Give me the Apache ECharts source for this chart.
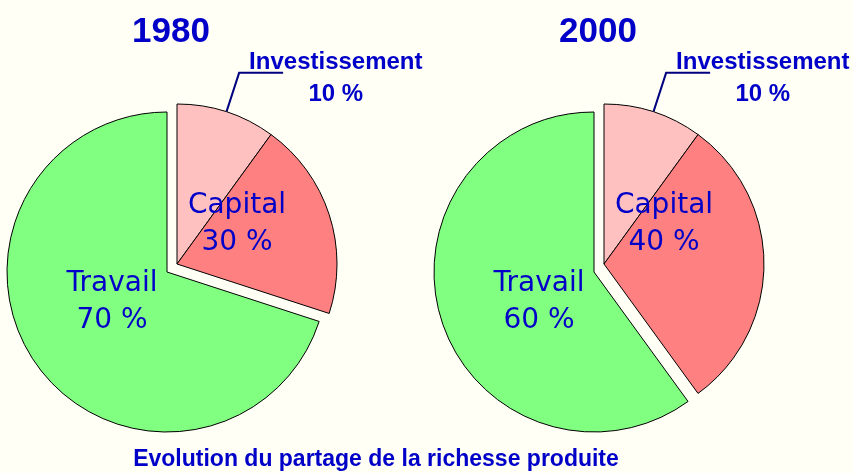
<!DOCTYPE html>
<html>
<head>
<meta charset="utf-8">
<script src="https://cdn.jsdelivr.net/npm/echarts@6/dist/echarts.min.js"></script>
<style>
	html, body {margin:0; padding:0; background:#fffff5;}
	#chart {width:853px; height:473px;}
</style>
</head>
<body>
<div id="chart"></div>
<script>
var annees = ['1980', '2000'];
var travail = [70, 60];
var capital = [30, 40];          // capital, investissement compris
var investissement = [10, 10];
var titre = 'Evolution du partage de la richesse produite';

var bleu = '#0000c8';
var centres = [[167, 272], [594, 272]];
var decalage = [10, -8];         // part du capital sortie du camembert
var rayon = 160;
var vide = {color:'rgba(0,0,0,0)', borderWidth:0};

//la part du travail
function serieTravail(i){
	var c = centres[i];
	return {
		type: 'pie',
		silent: true,
		center: c,
		radius: rayon,
		startAngle: 90,
		avoidLabelOverlap: false,
		itemStyle: {borderColor:'#000', borderWidth:1},
		data: [
			{value: capital[i], name: 'reste', itemStyle: vide, label: {show:false}, labelLine: {show:false}},
			{value: travail[i], name: 'Travail', itemStyle: {color:'#80ff80'},
				label: {
					show: true,
					position: 'inside',
					formatter: 'Travail\n' + travail[i] + ' %',
					fontFamily: 'DejaVu Sans',
					fontSize: 28,
					lineHeight: 37,
					color: bleu,
					textBorderWidth: 0
				},
				labelLine: {show:false}
			}
		],
		labelLayout: function(p){
			if(p.dataIndex != 1) return {};
			return {x: c[0] - 55, y: c[1] + 30, align: 'center', verticalAlign: 'middle'};
		}
	};
}

//capital + investissement, decale
function serieCapital(i){
	var c = [centres[i][0] + decalage[0], centres[i][1] + decalage[1]];
	return {
		type: 'pie',
		silent: true,
		center: c,
		radius: rayon,
		startAngle: 90,
		avoidLabelOverlap: false,
		itemStyle: {borderColor:'#000', borderWidth:1},
		data: [
			{value: investissement[i], name: 'Investissement', itemStyle: {color:'#ffc0c0'},
				label: {
					show: true,
					position: 'outside',
					formatter: '{a|Investissement}\n{a|' + investissement[i] + ' %}',
					distanceToLabelLine: -34,
					padding: [12, 0, 0, 0],
					rich: {
						a: {
							align: 'center',
							fontFamily: 'Liberation Sans',
							fontWeight: 'bold',
							fontSize: 24,
							lineHeight: 32,
							color: bleu
						}
					}
				},
				labelLine: {show:true, length:41, length2:44, lineStyle:{color:'#000080', width:2}}
			},
			{value: capital[i] - investissement[i], name: 'Capital', itemStyle: {color:'#ff8080'},
				label: {
					show: true,
					position: 'inside',
					formatter: 'Capital\n' + capital[i] + ' %',
					fontFamily: 'DejaVu Sans',
					fontSize: 28,
					lineHeight: 37,
					color: bleu,
					textBorderWidth: 0
				},
				labelLine: {show:false}
			},
			{value: travail[i], name: 'reste', itemStyle: vide, label: {show:false}, labelLine: {show:false}}
		],
		labelLayout: function(p){
			if(p.dataIndex != 1) return {};
			return {x: c[0] + 60, y: c[1] - 40, align: 'center', verticalAlign: 'middle'};
		}
	};
}

var chart = echarts.init(document.getElementById('chart'));
var titres = [];
var series = [];
for(var i = 0; i < annees.length; i++){
	titres.push({
		text: annees[i],
		left: centres[i][0] + 4,
		top: 15,
		padding: 0,
		textAlign: 'center',
		textStyle: {fontFamily:'Liberation Sans', fontWeight:'bold', fontSize:35, color:bleu}
	});
	series.push(serieTravail(i));
	series.push(serieCapital(i));
}
titres.push({
	text: titre,
	left: 376,
	top: 448,
	padding: 0,
	textAlign: 'center',
	textStyle: {fontFamily:'Liberation Sans', fontWeight:'bold', fontSize:23, color:bleu}
});

chart.setOption({
	backgroundColor: '#fffff5',
	animation: false,
	title: titres,
	tooltip: {show:false},
	series: series
});
</script>
</body>
</html>
